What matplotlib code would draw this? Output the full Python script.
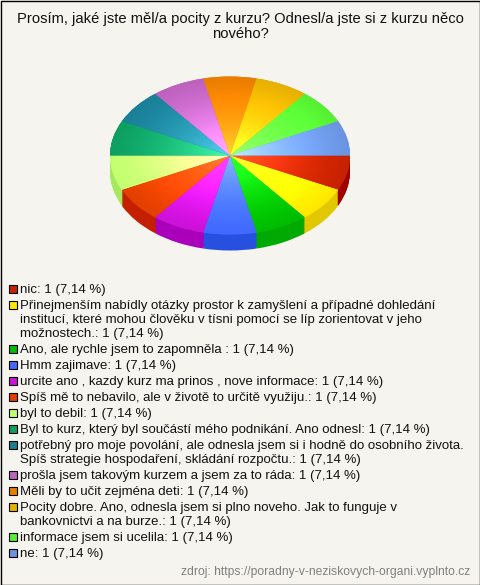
import numpy as np
import matplotlib
matplotlib.use('Agg')
import matplotlib.pyplot as plt
from matplotlib.colors import to_rgb
from matplotlib.patches import Rectangle

plt.rcParams['font.family'] = ['Liberation Sans', 'DejaVu Sans']

title = 'Prosím, jaké jste měl/a pocity z kurzu? Odnesl/a jste si z kurzu něco\nnového?'
source = 'zdroj: https://poradny-v-neziskovych-organi.vyplnto.cz'

# answers, some wrap over more lines
labels = [
    'nic',
    'Přinejmenším nabídly otázky prostor k zamyšlení a případné dohledání\ninstitucí, které mohou člověku v tísni pomocí se líp zorientovat v jeho\nmožnostech.',
    'Ano, ale rychle jsem to zapomněla ',
    'Hmm zajimave',
    'urcite ano , kazdy kurz ma prinos , nove informace',
    'Spíš mě to nebavilo, ale v životě to určitě využiju.',
    'byl to debil',
    'Byl to kurz, který byl součástí mého podnikání. Ano odnesl',
    'potřebný pro moje povolání, ale odnesla jsem si i hodně do osobního života.\nSpíš strategie hospodaření, skládání rozpočtu.',
    'prošla jsem takovým kurzem a jsem za to ráda',
    'Měli by to učit zejména deti',
    'Pocity dobre. Ano, odnesla jsem si plno noveho. Jak to funguje v\nbankovnictvi a na burze.',
    'informace jsem si ucelila',
    'ne',
]
values = [1] * 14
colors = ['#c62200', '#ffe600', '#00bb00', '#4169ff', '#cc11d8', '#e23f00', '#c2ff70',
          '#0e9e62', '#1a7f96', '#bd62bd', '#e87d00', '#e6b000', '#55ee33', '#6a94e0']
side_colors = ['#a00000', '#e2c800', '#00aa00', '#2850e0', '#aa00bb', '#c42000', '#a8e860',
               '#0e9e62', '#1a7f96', '#bd62bd', '#e87d00', '#e6b000', '#55ee33', '#6a94e0']

W, H = 480, 585
bg = '#f5f4ee'
fig = plt.figure(figsize=(W / 100, H / 100), dpi=100, facecolor=bg)

# pie axes, flattened to an ellipse
cx, cy, rx, ry, depth = 230, 155.5, 120, 79, 16
ax = fig.add_axes([(cx - rx - 2) / W, 1 - (cy + ry + depth + 2) / H,
                   (2 * rx + 4) / W, (2 * ry + depth + 4) / H])
for d in np.arange(depth, 0, -1):
    ax.pie(values, colors=side_colors, startangle=0, counterclock=False, radius=1,
           center=(0, -d / ry), wedgeprops={'linewidth': 0.4, 'edgecolor': 'none'})
wedges, _ = ax.pie(values, colors=colors, startangle=0, counterclock=False, radius=1,
                   center=(0, 0), wedgeprops={'linewidth': 0})
ax.set_aspect('auto')

# each slice brightens from its legend colour at the rim towards the middle
xx, yy = np.meshgrid(np.linspace(-1, 1, 240), np.linspace(-1, 1, 240))
rr = np.clip(np.sqrt(xx ** 2 + yy ** 2), 0, 1)
for wedge, col in zip(wedges, colors):
    base = np.array(to_rgb(col))
    boost = (1 + 0.3 * (1 - rr))[..., None]
    white = (0.2 * (1 - rr) ** 2)[..., None]
    img = np.clip(base * boost + white, 0, 1)
    im = ax.imshow(img, extent=(-1, 1, -1, 1), origin='lower', aspect='auto', zorder=5)
    im.set_clip_path(wedge)
ax.set_xlim(-(rx + 2) / rx, (rx + 2) / rx)
ax.set_ylim(-(ry + depth + 2) / ry, (ry + 2) / ry)

# everything else in pixel coordinates
page = fig.add_axes([0, 0, 1, 1], zorder=10)
page.set_xlim(0, W)
page.set_ylim(H, 0)
page.axis('off')
page.patch.set_alpha(0)
page.add_patch(Rectangle((0.5, 0.5), W - 1, H - 1, fill=False, edgecolor='black', linewidth=1))

page.text(240, 19.5, title.split('\n')[0], ha='center', va='center', fontsize=10.6, color='#111111')
page.text(240, 34, title.split('\n')[1], ha='center', va='center', fontsize=10.6, color='#111111')

total = sum(values)
y = 289.5
for label, val, col in zip(labels, values, colors):
    page.add_patch(Rectangle((9, y - 5), 8, 8, facecolor=col, edgecolor='black', linewidth=0.8))
    pct = f'{100 * val / total:.2f}'.replace('.', ',')
    lines = f'{label}: {val} ({pct} %)'.split('\n')
    for i, line in enumerate(lines):
        page.text(20, y, line, ha='left', va='center', fontsize=9.55, color='#111111')
        if i < len(lines) - 1:
            y += 14
    y += 16

page.text(470, 572, source, ha='right', va='center', fontsize=8.75, color='#808080')

fig.savefig('out.png', dpi=100, facecolor=bg)
